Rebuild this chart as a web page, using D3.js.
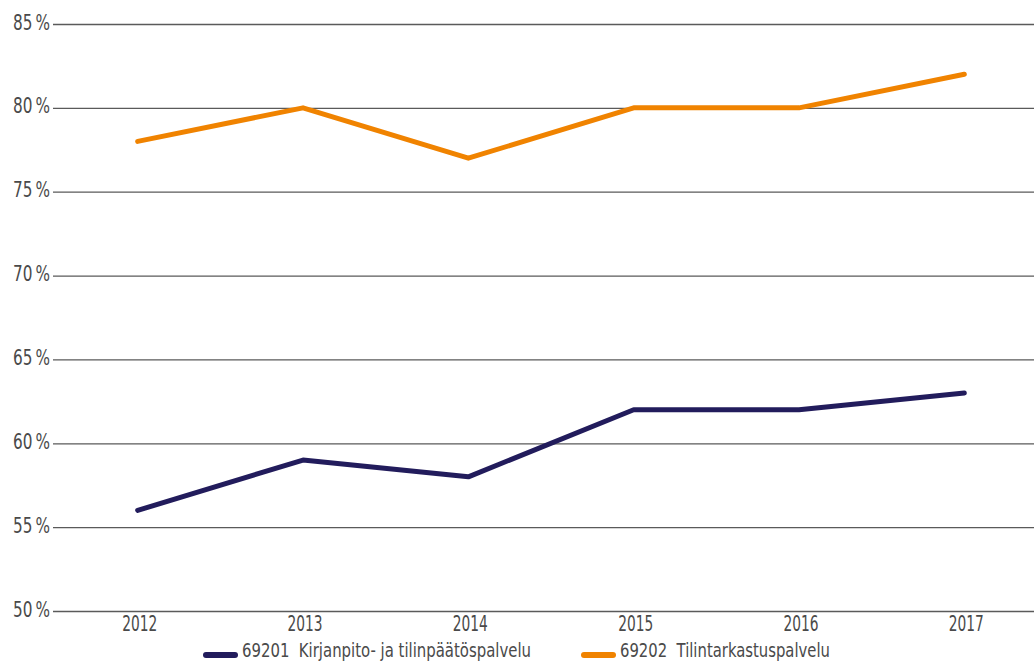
<!DOCTYPE html>
<html>
<head>
<meta charset="utf-8">
<script src="https://cdn.jsdelivr.net/npm/d3@7"></script>
<style>
  body { margin: 0; background: #fff; }
  svg text { font-family: "DejaVu Sans Condensed", "Liberation Sans Narrow", sans-serif; fill: #4a4a4a; }
</style>
</head>
<body>
<div id="area"></div>
<script>
const years = ["2012", "2013", "2014", "2015", "2016", "2017"];
const kirjanpito = [56, 59, 58, 62, 62, 63];
const tilintarkastus = [78, 80, 77, 80, 80, 82];
const yTicks = [50, 55, 60, 65, 70, 75, 80, 85];
const seriesNames = ["69201  Kirjanpito- ja tilinpäätöspalvelu", "69202  Tilintarkastuspalvelu"];
const colors = ["#221c5c", "#f08300"];

const width = 1034;
const height = 668;
const margin = { top: 24, right: -13, bottom: 57, left: 55 };

const svg = d3
  .select("#area")
  .append("svg")
  .attr("width", width)
  .attr("height", height);

const x = d3
  .scaleBand()
  .domain(years)
  .range([margin.left, width - margin.right]);

const y = d3
  .scaleLinear()
  .domain([50, 85])
  .range([height - margin.bottom, margin.top]);

// gridlines + y labels
const yAxis = svg
  .append("g")
  .attr("transform", `translate(${margin.left - 2}, 0)`)
  .call(
    d3.axisRight(y)
      .tickValues(yTicks)
      .tickSize(width - margin.left + 2)
      .tickFormat((d) => d + "\u2009%")
  );
yAxis.select(".domain").remove();
yAxis.selectAll(".tick line").attr("stroke", "#5a5a5a").attr("stroke-width", 1.3);
yAxis
  .selectAll(".tick text")
  .attr("x", -3)
  .attr("dy", "0.25em")
  .attr("text-anchor", "end")
  .attr("textLength", 37)
  .attr("lengthAdjust", "spacingAndGlyphs")
  .style("font-size", "20.5px");

// x labels
const xAxis = svg
  .append("g")
  .attr("transform", `translate(2, ${height - margin.bottom})`)
  .call(d3.axisBottom(x).tickSize(0).tickPadding(5));
xAxis.select(".domain").remove();
xAxis
  .selectAll(".tick text")
  .attr("textLength", 35)
  .attr("lengthAdjust", "spacingAndGlyphs")
  .style("font-size", "20.5px");

const line = d3
  .line()
  .x((d, i) => x(years[i]) + x.bandwidth() / 2)
  .y((d) => y(d));

[kirjanpito, tilintarkastus].forEach((vals, i) => {
  svg
    .append("path")
    .attr("fill", "none")
    .attr("stroke", colors[i])
    .attr("stroke-width", 5)
    .attr("stroke-linecap", "round")
    .attr("stroke-linejoin", "round")
    .attr("d", line(vals));
});

// legend
const legendX = [206, 584];
const legendW = [289, 210];
seriesNames.forEach((name, i) => {
  const g = svg.append("g").attr("transform", `translate(${legendX[i]}, 655)`);
  g.append("line")
    .attr("x1", 0)
    .attr("x2", 29)
    .attr("stroke", colors[i])
    .attr("stroke-width", 6)
    .attr("stroke-linecap", "round");
  g.append("text")
    .attr("x", 36)
    .attr("y", 2)
    .attr("textLength", legendW[i])
    .attr("lengthAdjust", "spacingAndGlyphs")
    .style("font-size", "19px")
    .style("white-space", "pre")
    .text(name);
});
</script>
</body>
</html>
